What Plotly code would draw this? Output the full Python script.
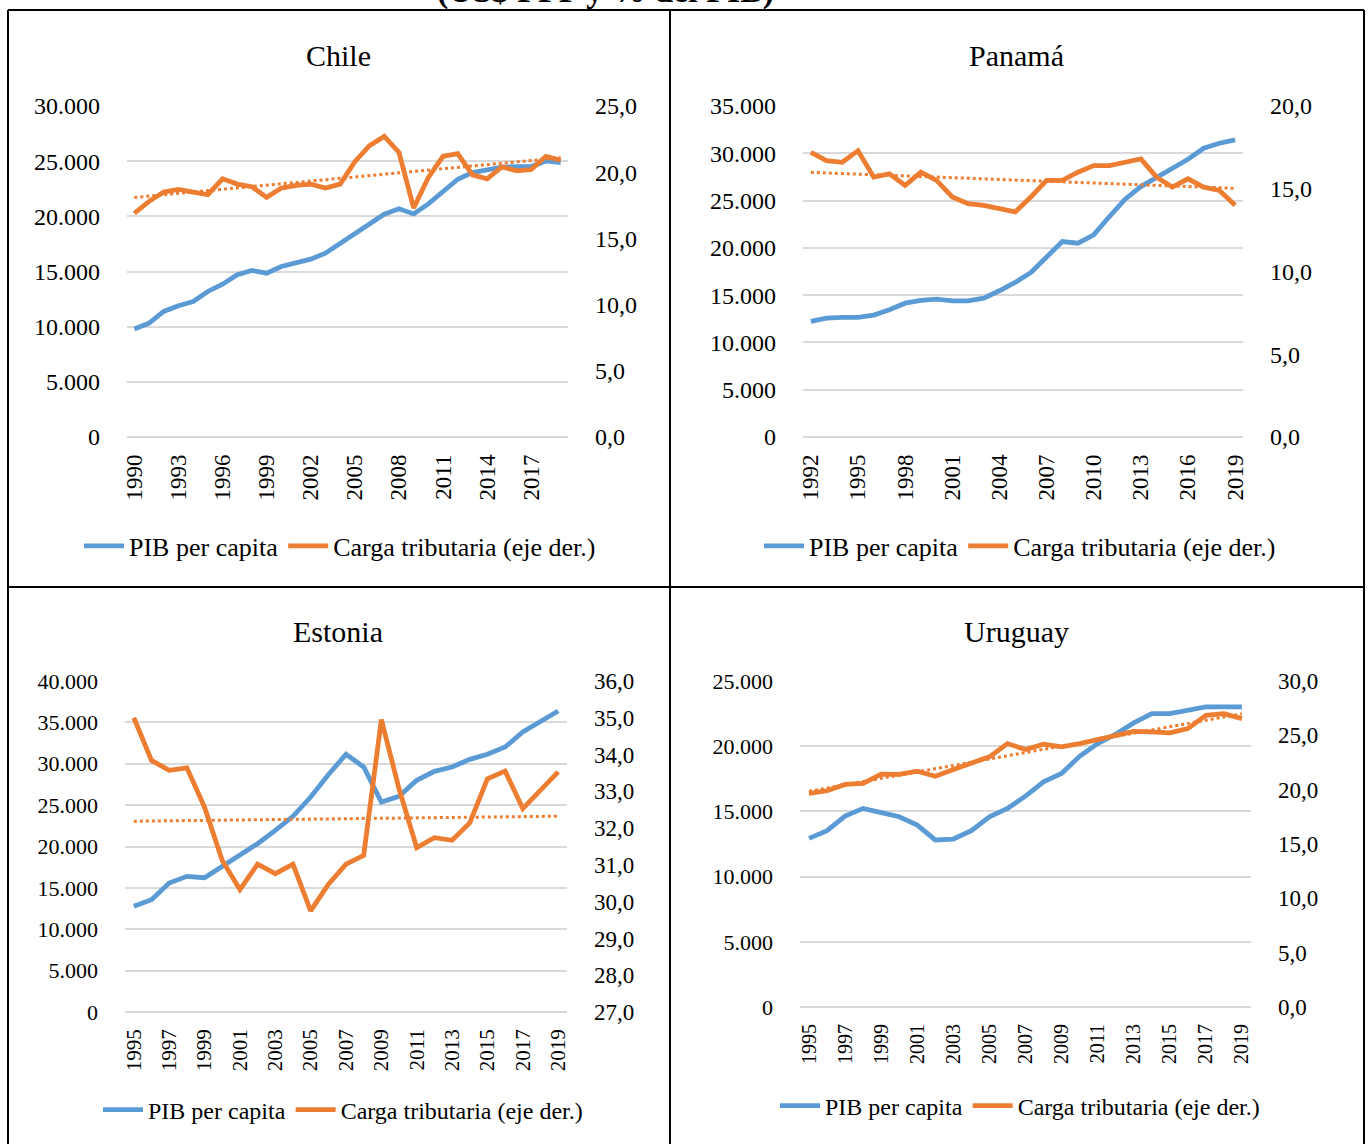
import plotly.graph_objects as go
import numpy as np

W, H = 1368, 1144
BLUE = "#5B9BD5"
ORANGE = "#ED7D31"
GRID = "#D9D9D9"
FONT = "Liberation Serif"

# ---------------- data ----------------
chile_years = list(range(1990, 2020))
chile_pib = [9780, 10320, 11380, 11890, 12280, 13190, 13850, 14700, 15090, 14850,
             15450, 15760, 16120, 16660, 17570, 18410, 19380, 20190, 20680, 20220,
             21130, 22250, 23360, 23970, 24210, 24450, 24510, 24510, 25020, 24870]
chile_carga = [16.9, 17.8, 18.5, 18.7, 18.5, 18.3, 19.5, 19.1, 18.9, 18.1,
               18.8, 19.0, 19.1, 18.8, 19.1, 20.8, 22.0, 22.7, 21.5, 17.3,
               19.6, 21.2, 21.4, 19.8, 19.5, 20.4, 20.1, 20.2, 21.2, 20.9]

panama_years = list(range(1992, 2020))
panama_pib = [12220, 12570, 12640, 12640, 12890, 13450, 14150, 14440, 14580, 14400,
              14400, 14680, 15460, 16340, 17390, 19080, 20670, 20490, 21370, 23310,
              25140, 26480, 27460, 28490, 29370, 30530, 31060, 31410]
panama_carga = [17.2, 16.7, 16.6, 17.3, 15.7, 15.9, 15.2, 16.0, 15.5, 14.5,
                14.1, 14.0, 13.8, 13.6, 14.5, 15.5, 15.5, 16.0, 16.4, 16.4,
                16.6, 16.8, 15.7, 15.1, 15.6, 15.1, 14.9, 14.0]

estonia_years = list(range(1995, 2020))
estonia_pib = [12770, 13580, 15590, 16390, 16230, 17600, 18930, 20340, 21950, 23650,
               25980, 28680, 31140, 29610, 25380, 26060, 28000, 29080, 29610, 30530,
               31140, 32020, 33840, 35130, 36370]
estonia_carga = [35.0, 33.84, 33.57, 33.64, 32.57, 31.12, 30.33, 31.02, 30.76, 31.02,
                 29.75, 30.47, 31.02, 31.26, 34.95, 33.07, 31.47, 31.74, 31.67, 32.14,
                 33.34, 33.55, 32.53, 33.03, 33.53]

uruguay_years = list(range(1995, 2020))
uruguay_pib = [12930, 13520, 14640, 15230, 14900, 14590, 13950, 12810, 12880, 13520,
               14590, 15230, 16170, 17270, 17910, 19230, 20200, 20920, 21790, 22500,
               22500, 22760, 23010, 23010, 23010]
uruguay_carga = [19.65, 19.9, 20.48, 20.57, 21.43, 21.4, 21.7, 21.24, 21.86, 22.41,
                 23.02, 24.24, 23.69, 24.18, 23.94, 24.24, 24.61, 24.92, 25.37, 25.31,
                 25.22, 25.62, 26.84, 27.0, 26.54]

series_names = ["PIB per capita", "Carga tributaria (eje der.)"]
titles = ["Chile", "Panamá", "Estonia", "Uruguay"]
main_title = "(US$ PPP y % del PIB)"


def px(x):
    return x / W


def py(y):
    return 1 - y / H


panels = [
    dict(title=titles[0], years=chile_years, pib=chile_pib, carga=chile_carga,
         xb=(127, 568), yb=(106, 437), lrange=(0, 30000), rrange=(0, 25), rdtick=5,
         tick_years=list(range(1990, 2020, 3)), tf=23, yf=24, rf=24, lf=26,
         leg=(340, 546), tit=(338, 55)),
    dict(title=titles[1], years=panama_years, pib=panama_pib, carga=panama_carga,
         xb=(803, 1243), yb=(106, 437), lrange=(0, 35000), rrange=(0, 20), rdtick=5,
         tick_years=list(range(1992, 2020, 3)), tf=23, yf=24, rf=24, lf=26,
         leg=(1020, 546), tit=(1016, 55)),
    dict(title=titles[2], years=estonia_years, pib=estonia_pib, carga=estonia_carga,
         xb=(125, 567), yb=(681, 1012), lrange=(0, 40000), rrange=(27, 36), rdtick=1,
         tick_years=list(range(1995, 2020, 2)), tf=21, yf=22, rf=23, lf=24,
         leg=(343, 1110), tit=(338, 632)),
    dict(title=titles[3], years=uruguay_years, pib=uruguay_pib, carga=uruguay_carga,
         xb=(800, 1251), yb=(681, 1007), lrange=(0, 25000), rrange=(0, 30), rdtick=5,
         tick_years=list(range(1995, 2020, 2)), tf=20, yf=22, rf=23, lf=24,
         leg=(1020, 1106), tit=(1016, 632)),
]

fig = go.Figure()
layout = {}
annotations = []

for i, p in enumerate(panels):
    n = i + 1
    xa = "x" if n == 1 else f"x{n}"
    ya_l = "y" if n == 1 else f"y{2 * n - 1}"
    ya_r = f"y{2 * n}"
    leg = "legend" if n == 1 else f"legend{n}"

    yrs = np.array(p["years"], dtype=float)
    carga = np.array(p["carga"], dtype=float)
    coef = np.polyfit(yrs, carga, 1)
    trend = np.polyval(coef, yrs)

    fig.add_trace(go.Scatter(x=p["years"], y=p["pib"], mode="lines", name=series_names[0],
                             line=dict(color=BLUE, width=4.8), xaxis=xa, yaxis=ya_l,
                             legend=leg))
    fig.add_trace(go.Scatter(x=p["years"], y=p["carga"], mode="lines", name=series_names[1],
                             line=dict(color=ORANGE, width=4.8), xaxis=xa, yaxis=ya_r,
                             legend=leg))
    fig.add_trace(go.Scatter(x=p["years"], y=trend, mode="lines", showlegend=False,
                             line=dict(color=ORANGE, width=3, dash="dot"),
                             xaxis=xa, yaxis=ya_r, hoverinfo="skip"))

    xkey = "xaxis" if n == 1 else f"xaxis{n}"
    ylkey = "yaxis" if n == 1 else f"yaxis{2 * n - 1}"
    yrkey = f"yaxis{2 * n}"

    layout[xkey] = dict(
        domain=[px(p["xb"][0]), px(p["xb"][1])],
        range=[p["years"][0] - 0.5, p["years"][-1] + 0.5],
        tickvals=p["tick_years"], ticktext=[str(v) for v in p["tick_years"]],
        tickangle=-90, showgrid=False, zeroline=False, showline=False, ticks="",
        tickfont=dict(size=p["tf"], color="black", family=FONT),
        anchor=ya_l, automargin=False, ticklabelstandoff=12, fixedrange=True,
    )
    layout[ylkey] = dict(
        domain=[py(p["yb"][1]), py(p["yb"][0])],
        range=list(p["lrange"]), dtick=5000, tick0=0, tickformat=",d",
        showgrid=True, gridcolor=GRID, gridwidth=2,
        zeroline=True, zerolinecolor=GRID, zerolinewidth=2,
        showline=False, ticks="",
        tickfont=dict(size=p["yf"], color="black", family=FONT),
        anchor=xa, automargin=False, ticklabelstandoff=26, fixedrange=True,
    )
    layout[yrkey] = dict(
        overlaying=ya_l, side="right", anchor=xa,
        range=list(p["rrange"]), dtick=p["rdtick"], tick0=p["rrange"][0], tickformat=".1f",
        showgrid=False, zeroline=False, showline=False, ticks="",
        tickfont=dict(size=p["rf"], color="black", family=FONT),
        automargin=False, ticklabelstandoff=26, fixedrange=True,
    )
    layout[leg] = dict(
        x=px(p["leg"][0]), y=py(p["leg"][1]), xanchor="center", yanchor="middle",
        orientation="h", font=dict(size=p["lf"], color="black", family=FONT),
        bgcolor="rgba(0,0,0,0)", itemwidth=40,
    )
    annotations.append(dict(
        text=p["title"], x=px(p["tit"][0]), y=py(p["tit"][1]), xref="paper", yref="paper",
        xanchor="center", yanchor="middle", showarrow=False,
        font=dict(size=30, color="black", family=FONT),
    ))

annotations.append(dict(
    text=f"<b>{main_title}</b>", x=px(605), y=py(12), xref="paper", yref="paper",
    xanchor="center", yanchor="bottom", showarrow=False,
    font=dict(size=34, color="black", family=FONT),
))

# table borders
border = dict(color="black", width=2)
shapes = []
for (x0, y0, x1, y1) in [(8, 10, 1364, 10), (8, 10, 8, 1144), (670, 10, 670, 1144),
                         (1364, 10, 1364, 1144), (8, 587, 1364, 587)]:
    shapes.append(dict(type="line", xref="paper", yref="paper",
                       x0=px(x0), y0=py(y0), x1=px(x1), y1=py(y1), line=border))

fig.update_layout(
    width=W, height=H, margin=dict(l=0, r=0, t=0, b=0),
    paper_bgcolor="white", plot_bgcolor="white",
    separators=",.",
    font=dict(family=FONT, color="black"),
    annotations=annotations, shapes=shapes,
    **layout,
)

fig.write_html("out.html", config={"displayModeBar": False},
               post_script="document.body.style.margin='0px';")
